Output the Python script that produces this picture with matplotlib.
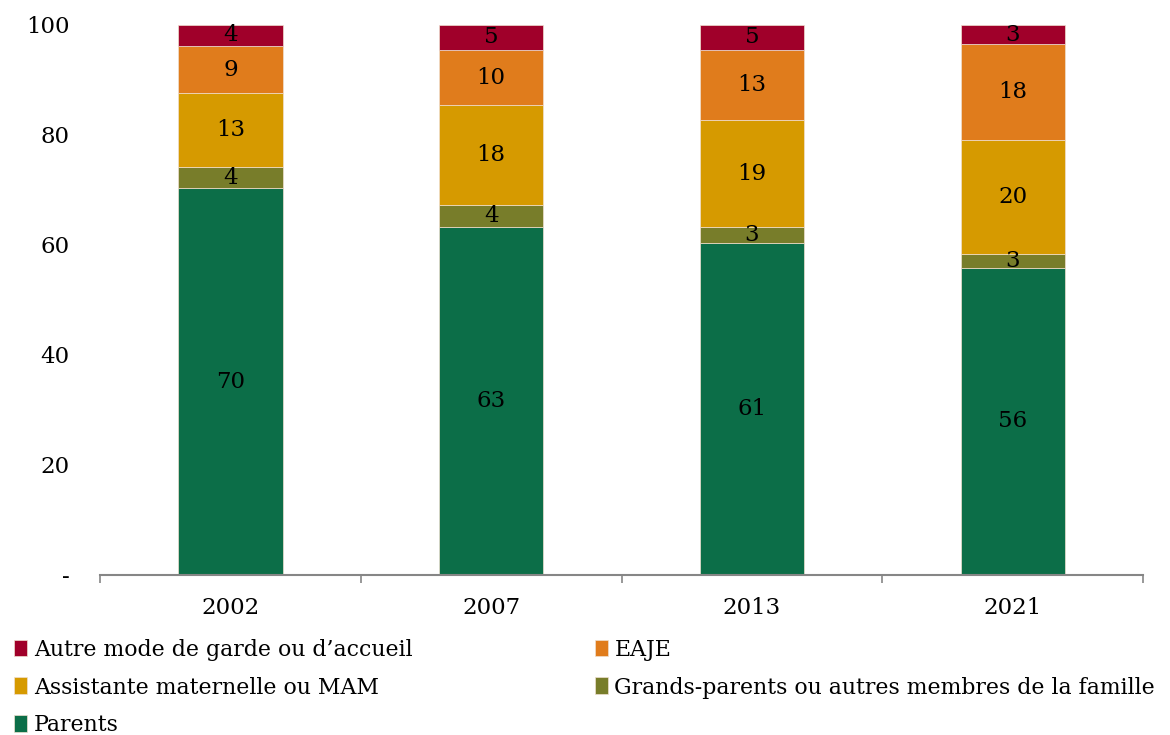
import matplotlib.pyplot as plt
import numpy as np

years = ['2002', '2007', '2013', '2021']

# segment heights (percent), bottom to top
parents = [70.3, 63.3, 60.4, 55.9]
grands_parents = [3.8, 4.0, 2.8, 2.5]
assistante = [13.5, 18.1, 19.5, 20.7]
eaje = [8.6, 10.1, 12.8, 17.4]
autre = [3.8, 4.5, 4.5, 3.5]

# labels printed on the segments
lab_parents = [70, 63, 61, 56]
lab_grands = [4, 4, 3, 3]
lab_assistante = [13, 18, 19, 20]
lab_eaje = [9, 10, 13, 18]
lab_autre = [4, 5, 5, 3]

series = [
    ('Parents', parents, lab_parents, '#0c6e48'),
    ('Grands-parents ou autres membres de la famille', grands_parents, lab_grands, '#787d2a'),
    ('Assistante maternelle ou MAM', assistante, lab_assistante, '#d69a00'),
    ('EAJE', eaje, lab_eaje, '#e07c1c'),
    ('Autre mode de garde ou d\u2019accueil', autre, lab_autre, '#a0002a'),
]

plt.rcParams['font.family'] = ['DejaVu Serif']
plt.rcParams['font.size'] = 16.5

fig = plt.figure(figsize=(11.7, 7.35), dpi=100)
ax = fig.add_axes([0.0855, 0.2177, 0.977 - 0.0855, 0.966 - 0.2177])

x = np.arange(len(years))
bottom = np.zeros(len(years))
handles = {}
for name, vals, labs, color in series:
    vals = np.array(vals)
    bars = ax.bar(x, vals, 0.4, bottom=bottom, color=color, edgecolor='#f0e0d0',
                  linewidth=0.5, label=name)
    handles[name] = bars
    for xi, b, v, l in zip(x, bottom, vals, labs):
        ax.text(xi, b + v / 2, str(l), ha='center', va='center', fontsize=16.5, color='black')
    bottom += vals

ax.set_xlim(-0.5, 3.5)
ax.set_ylim(0, 100)
ax.set_yticks([0, 20, 40, 60, 80, 100])
ax.set_yticklabels(['-', '20', '40', '60', '80', '100'])
ax.tick_params(axis='y', length=0, pad=22)
ax.set_xticks(x)
ax.set_xticklabels(years)
ax.tick_params(axis='x', which='major', length=0, pad=16)
ax.set_xticks([-0.5, 0.5, 1.5, 2.5, 3.5], minor=True)
ax.tick_params(axis='x', which='minor', length=6, width=1.2, color='#868686', direction='out')

for s in ['left', 'top', 'right']:
    ax.spines[s].set_visible(False)
ax.spines['bottom'].set_color('#868686')
ax.spines['bottom'].set_linewidth(1.5)

order = ['Autre mode de garde ou d\u2019accueil', 'Assistante maternelle ou MAM', 'Parents',
         'EAJE', 'Grands-parents ou autres membres de la famille']
fig.legend([handles[n] for n in order], order, loc='upper left',
           bbox_to_anchor=(0.012, 0.131), ncol=2, frameon=False, fontsize=15.8,
           handlelength=0.6, handleheight=0.8, handletextpad=0.3,
           columnspacing=8.3, labelspacing=0.72, borderaxespad=0, borderpad=0)

fig.savefig('out.png', dpi=100)
